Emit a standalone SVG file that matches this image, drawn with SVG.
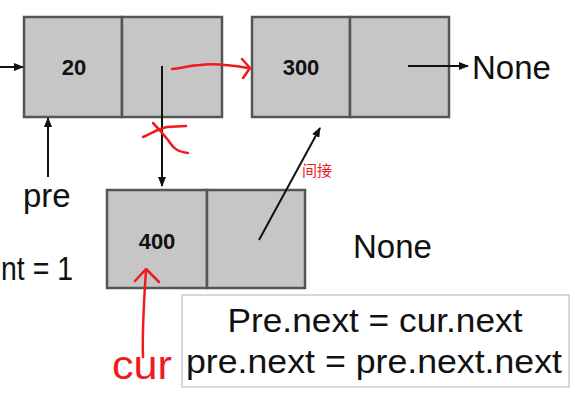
<svg xmlns="http://www.w3.org/2000/svg" width="583" height="402" viewBox="0 0 583 402">
<defs>
<marker id="ah" markerWidth="10" markerHeight="8" refX="9" refY="4" orient="auto" markerUnits="userSpaceOnUse">
<path d="M0,0 L10,4 L0,8 Z" fill="#111"/>
</marker>
<style>
.cell{fill:#c6c6c6;stroke:#555;stroke-width:2.5}
.val{font-family:"Liberation Sans",Arial,sans-serif;font-weight:bold;font-size:22px;fill:#111;text-anchor:middle}
.lbl{font-family:"Liberation Sans",Arial,sans-serif;font-size:33px;fill:#111}
.edge{stroke:#111;stroke-width:2;fill:none}
.red{stroke:#f0191e;stroke-width:2.5;fill:none;stroke-linecap:round;stroke-linejoin:round}
</style>
</defs>
<rect width="583" height="402" fill="#fff"/>
<g id="node20">
<rect class="cell" x="24" y="17" width="98" height="100"/>
<rect class="cell" x="122" y="17" width="100" height="100"/>
<text class="val" x="74" y="75">20</text>
</g>
<g id="node300">
<rect class="cell" x="252" y="17" width="98" height="100"/>
<rect class="cell" x="350" y="17" width="99" height="100"/>
<text class="val" x="301" y="75">300</text>
</g>
<g id="node400">
<rect class="cell" x="107" y="190" width="100" height="98"/>
<rect class="cell" x="207" y="190" width="98" height="98"/>
<text class="val" x="157" y="249">400</text>
</g>
<g id="labels">
<text class="lbl" x="472" y="79">None</text>
<text class="lbl" x="353" y="258">None</text>
<text class="lbl" x="23" y="207">pre</text>
<text class="lbl" x="1" y="280" textLength="72" lengthAdjust="spacingAndGlyphs">nt = 1</text>
<text x="302" y="176" font-family="'Noto Sans CJK SC',sans-serif" font-size="15" fill="#f0191e">间接</text>
</g>
<g id="codebox">
<rect x="182" y="295" width="387" height="92" fill="#fff" stroke="#ccc" stroke-width="1.5"/>
<text class="lbl" x="375" y="332" text-anchor="middle" textLength="295" lengthAdjust="spacingAndGlyphs">Pre.next = cur.next</text>
<text class="lbl" x="374" y="373" text-anchor="middle" textLength="376" lengthAdjust="spacingAndGlyphs">pre.next = pre.next.next</text>
</g>
<g id="connectors">
<line class="edge" x1="0" y1="67" x2="23" y2="67" marker-end="url(#ah)"/>
<line class="edge" x1="48" y1="177" x2="48" y2="118" marker-end="url(#ah)"/>
<line class="edge" x1="162" y1="66" x2="162" y2="186" marker-end="url(#ah)"/>
<line class="edge" x1="408" y1="66" x2="468" y2="66" marker-end="url(#ah)"/>
<line class="edge" x1="259" y1="240" x2="320" y2="128" marker-end="url(#ah)"/>
</g>
<g id="annotations">
<path class="red" d="M172,69 C185,68 190,65 200,65 C215,63 230,65 248,68"/>
<path class="red" d="M242,59 L250,68 L243,78"/>
<path class="red" d="M143,137 C152,133 160,128 167,127 L186,126"/>
<path class="red" d="M153,123 C158,128 164,135 168,140 C172,146 176,152 188,153"/>
<path class="red" d="M143,357 C142,330 144,300 146,270"/>
<path class="red" d="M135,281 L146,269 L159,282"/>
<text x="112" y="379" font-family="'Liberation Sans',sans-serif" font-size="40" fill="#f0191e" textLength="60" lengthAdjust="spacingAndGlyphs">cur</text>
</g>
</svg>
